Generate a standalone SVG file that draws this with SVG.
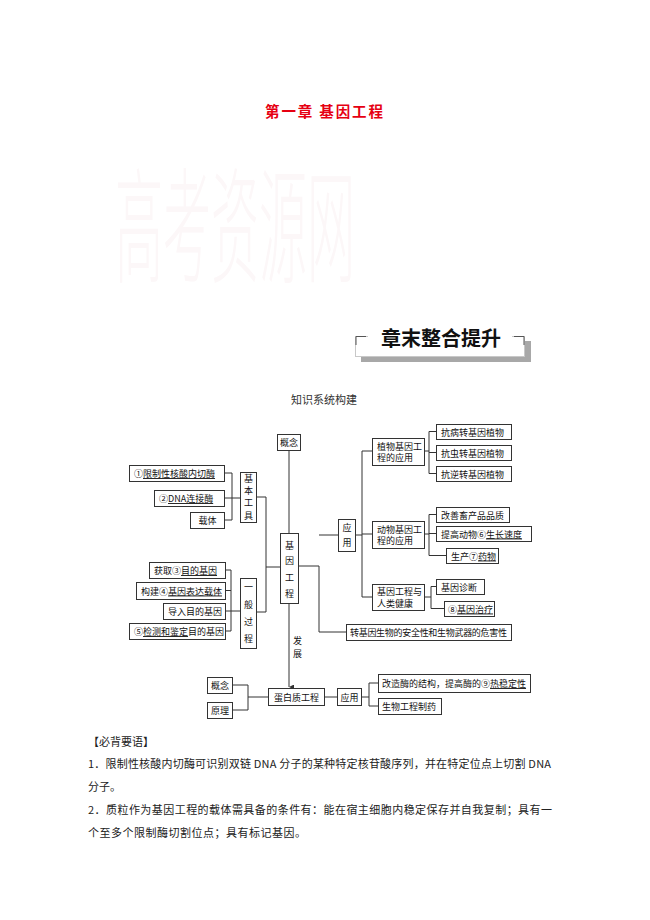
<svg xmlns="http://www.w3.org/2000/svg" width="650" height="920" viewBox="0 0 650 920">
<defs>
<style>
.box{fill:#fff;stroke:#333;stroke-width:1}
.ln{fill:none;stroke:#333;stroke-width:1}
.t{font-family:"Noto Sans CJK SC","Liberation Sans",sans-serif;font-size:9px;fill:#111}
.c{text-anchor:middle}
.u{text-decoration:underline}
.body{font-family:"Noto Sans CJK SC","Liberation Serif",serif;font-size:11px;fill:#222}
</style>
<marker id="arr" viewBox="0 0 6 6" refX="3" refY="6" markerWidth="5" markerHeight="5" orient="auto-start-reverse" markerUnits="userSpaceOnUse">
<path d="M0,0 L6,0 L3,6 Z" fill="#333"/>
</marker>
</defs>
<rect width="650" height="920" fill="#fff"/>

<!-- title -->
<text x="324" y="117" text-anchor="middle" font-family="Noto Sans CJK SC, sans-serif" font-size="14.5" font-weight="bold" fill="#e60012" textLength="118" lengthAdjust="spacing">第一章  基因工程</text>

<!-- watermark -->
<text transform="scale(1,2.6)" x="115" y="105" font-family="Noto Sans CJK SC, sans-serif" font-size="48" font-weight="300" fill="#fcf7f8" textLength="240">高考资源网</text>

<!-- banner -->
<g id="banner">
<rect x="361" y="341" width="170" height="21" fill="#a8a8a8"/>
<rect x="355.5" y="336.5" width="169" height="20" fill="#fff" stroke="#c8c8c8"/>
<rect x="368" y="327" width="144" height="19" fill="#fff"/>
<path d="M356,345 V336.5 H366 M514,336.5 H524 V345" fill="none" stroke="#555" stroke-width="1"/>
<text x="441" y="346" text-anchor="middle" font-family="Noto Sans CJK SC, serif" font-size="20" font-weight="bold" fill="#111">章末整合提升</text>
</g>

<text x="324" y="404" text-anchor="middle" font-family="Noto Sans CJK SC, serif" font-size="11" fill="#333">知识系统构建</text>

<!-- connectors -->
<g id="connectors" class="ln">
<path d="M289,450 V533"/>
<path d="M289,603 V687" marker-end="url(#arr)"/>
<path d="M224,473 H232 V520 H224 M224,498 H240"/>
<path d="M225,570 H231 V631 H225 M225,590.5 H231 M225,611 H240"/>
<path d="M256,497 H266 V612 H256 M266,567 H280"/>
<path d="M298,566 H319 V632 H346 M319,535 H338"/>
<path d="M355,535 H362 M362,451 V597 M362,451 H372 M362,534 H372 M362,597 H372"/>
<path d="M424,451 H429 M429,431.5 V473.5 M429,431.5 H436 M429,452.5 H436 M429,473.5 H436"/>
<path d="M424,534 H429 M429,514.5 V555.5 M429,514.5 H436 M429,533.5 H436 M429,555.5 H446"/>
<path d="M424,597 H431 M431,586.5 V608.5 H444 M431,586.5 H436"/>
<path d="M232,685 H248 V710 H232 M248,697 H268"/>
<path d="M324,697 H337"/>
<path d="M361,697 H369 M369,683 V706 M369,683 H378 M369,706 H378"/>
</g>

<!-- center -->
<g id="n-gainian1"><rect class="box" x="277.5" y="434.5" width="23" height="16"/><text class="t c" x="289" y="445.5">概念</text></g>
<g id="n-jiyingongcheng"><rect class="box" x="280.5" y="533.5" width="18" height="70"/>
<text class="t c" x="289.5" y="548.5">基<tspan x="289.5" dy="15.5">因</tspan><tspan x="289.5" dy="16.5">工</tspan><tspan x="289.5" dy="16">程</tspan></text></g>
<text class="t" x="293" y="643.5">发<tspan x="293" dy="13">展</tspan></text>

<!-- left upper -->
<g id="n-tool1"><rect class="box" x="129.5" y="465.5" width="95" height="16"/><text class="t" x="134" y="477">①<tspan class="u">限制性核酸内切酶</tspan></text></g>
<g id="n-tool2"><rect class="box" x="154.5" y="490.5" width="70" height="16"/><text class="t" x="159" y="502">②<tspan class="u">DNA连接酶</tspan></text></g>
<g id="n-tool3"><rect class="box" x="190.5" y="512.5" width="34" height="16"/><text class="t c" x="207.5" y="524">载体</text></g>
<g id="n-jibengongju"><rect class="box" x="240.5" y="472.5" width="16" height="50"/>
<text class="t c" x="248.5" y="481.5" font-size="8.5">基<tspan x="248.5" dy="12.4">本</tspan><tspan x="248.5" dy="12.4">工</tspan><tspan x="248.5" dy="12.4">具</tspan></text></g>

<!-- left lower -->
<g id="n-step1"><rect class="box" x="149.5" y="562.5" width="76" height="16"/><text class="t" x="154" y="574">获取③<tspan class="u">目的基因</tspan></text></g>
<g id="n-step2"><rect class="box" x="136.5" y="582.5" width="89" height="17"/><text class="t" x="141" y="594.5">构建④<tspan class="u">基因表达载体</tspan></text></g>
<g id="n-step3"><rect class="box" x="163.5" y="603.5" width="62" height="16"/><text class="t" x="168" y="615">导入目的基因</text></g>
<g id="n-step4"><rect class="box" x="129.5" y="623.5" width="96" height="16"/><text class="t" x="134" y="635">⑤<tspan class="u">检测和鉴定</tspan>目的基因</text></g>
<g id="n-yibanguocheng"><rect class="box" x="240.5" y="578.5" width="16" height="70"/>
<text class="t c" x="248.5" y="590">一<tspan x="248.5" dy="17.5">般</tspan><tspan x="248.5" dy="17">过</tspan><tspan x="248.5" dy="17">程</tspan></text></g>

<!-- right -->
<g id="n-yingyong1"><rect class="box" x="338.5" y="519.5" width="17" height="32"/><text class="t c" x="347" y="531">应<tspan x="347" dy="15">用</tspan></text></g>
<g id="n-zhiwu"><rect class="box" x="372.5" y="438.5" width="52" height="27"/><text class="t" x="377" y="449.5">植物基因工<tspan x="377" dy="11.5">程的应用</tspan></text></g>
<g id="n-p1"><rect class="box" x="436.5" y="424.5" width="75" height="15"/><text class="t" x="441" y="435.5">抗病转基因植物</text></g>
<g id="n-p2"><rect class="box" x="436.5" y="445.5" width="75" height="15"/><text class="t" x="441" y="456.5">抗虫转基因植物</text></g>
<g id="n-p3"><rect class="box" x="436.5" y="466.5" width="75" height="15"/><text class="t" x="441" y="477.5">抗逆转基因植物</text></g>

<g id="n-dongwu"><rect class="box" x="372.5" y="521.5" width="52" height="27"/><text class="t" x="377" y="532.5">动物基因工<tspan x="377" dy="11.5">程的应用</tspan></text></g>
<g id="n-a1"><rect class="box" x="436.5" y="507.5" width="73" height="15"/><text class="t" x="441" y="518.5">改善畜产品品质</text></g>
<g id="n-a2"><rect class="box" x="436.5" y="526.5" width="95" height="15"/><text class="t" x="441" y="537.5">提高动物⑥<tspan class="u">生长速度</tspan></text></g>
<g id="n-a3"><rect class="box" x="446.5" y="548.5" width="52" height="15"/><text class="t" x="451" y="559.5">生产⑦<tspan class="u">药物</tspan></text></g>

<g id="n-renlei"><rect class="box" x="372.5" y="584.5" width="52" height="26"/><text class="t" x="377" y="595">基因工程与<tspan x="377" dy="12">人类健康</tspan></text></g>
<g id="n-h1"><rect class="box" x="436.5" y="579.5" width="48" height="15"/><text class="t" x="441" y="590.5">基因诊断</text></g>
<g id="n-h2"><rect class="box" x="444.5" y="601.5" width="50" height="15"/><text class="t" x="448" y="612.5">⑧<tspan class="u">基因治疗</tspan></text></g>

<g id="n-safety"><rect class="box" x="346.5" y="624.5" width="165" height="16"/><text class="t" x="350" y="636" textLength="157">转基因生物的安全性和生物武器的危害性</text></g>

<!-- protein engineering -->
<g id="n-gainian2"><rect class="box" x="207.5" y="677.5" width="25" height="16"/><text class="t c" x="220" y="689">概念</text></g>
<g id="n-yuanli"><rect class="box" x="207.5" y="702.5" width="25" height="16"/><text class="t c" x="220" y="714">原理</text></g>
<g id="n-danbaizhi"><rect class="box" x="268.5" y="688.5" width="56" height="17"/><text class="t c" x="296.5" y="700.5">蛋白质工程</text></g>
<g id="n-yingyong2"><rect class="box" x="337.5" y="688.5" width="24" height="17"/><text class="t c" x="349.5" y="700.5">应用</text></g>
<g id="n-gaizao"><rect class="box" x="378.5" y="674.5" width="152" height="18"/><text class="t" x="382" y="687">改造酶的结构，提高酶的⑨<tspan class="u">热稳定性</tspan></text></g>
<g id="n-zhiyao"><rect class="box" x="378.5" y="698.5" width="63" height="16"/><text class="t" x="382" y="710">生物工程制药</text></g>

<!-- body text -->
<g id="body">
<text class="body" x="88" y="746">【必背要语】</text>
<text class="body" x="88" y="768" textLength="463" lengthAdjust="spacing">1．限制性核酸内切酶可识别双链 DNA 分子的某种特定核苷酸序列，并在特定位点上切割 DNA</text>
<text class="body" x="88" y="791">分子。</text>
<text class="body" x="88" y="814" textLength="464" lengthAdjust="spacing">2．质粒作为基因工程的载体需具备的条件有：能在宿主细胞内稳定保存并自我复制；具有一</text>
<text class="body" x="88" y="837" textLength="218" lengthAdjust="spacing">个至多个限制酶切割位点；具有标记基因。</text>
</g>
</svg>
